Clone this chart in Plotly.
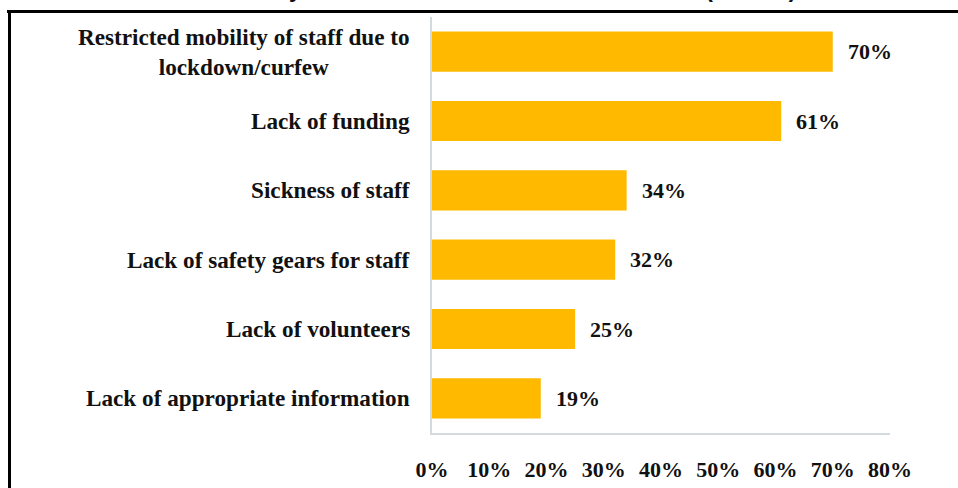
import plotly.graph_objects as go

categories = [
    "Restricted mobility of staff due to<br>lockdown/curfew",
    "Lack of funding",
    "Sickness of staff",
    "Lack of safety gears for staff",
    "Lack of volunteers",
    "Lack of appropriate information",
]
values = [70, 61, 34, 32, 25, 19]
tick_values = [0, 10, 20, 30, 40, 50, 60, 70, 80]
tick_labels = ["0%", "10%", "20%", "30%", "40%", "50%", "60%", "70%", "80%"]
title_text = "Headed by Professional Social workers (n=113)"

W, H = 958, 488
L, R, T, B = 432, 68, 17, 55
plot_h = H - T - B
plot_w = W - L - R

serif = "Liberation Serif, Times New Roman, serif"

fig = go.Figure()
fig.add_trace(go.Bar(
    x=values, y=categories, orientation="h",
    marker=dict(color="#FFBA00", line=dict(width=0)),
    width=0.58, hoverinfo="skip",
))

annotations = []
for c, v in zip(categories, values):
    annotations.append(dict(
        x=v, y=c, xref="x", yref="y", text=f"<b>{v}%</b>",
        showarrow=False, xanchor="left", yanchor="middle", xshift=13,
        font=dict(family=serif, size=22, color="#111111"),
    ))
    annotations.append(dict(
        x=0, y=c, xref="paper", yref="y", text=f"<b>{c}</b>",
        showarrow=False, xanchor="right", yanchor="middle", xshift=-20,
        align="center",
        font=dict(family=serif, size=23.2, color="#111111"),
    ))

# partially visible title at very top
annotations.append(dict(
    x=(488 - L) / plot_w, y=1 + (T - 6) / plot_h, xref="paper", yref="paper",
    text=f"<b>{title_text}</b>", showarrow=False, xanchor="center", yanchor="bottom",
    font=dict(family="Liberation Mono, Courier New, monospace", size=23, color="#111111"),
))

# black frame (partially visible)
fx0 = (9.5 - L) / plot_w
fy1 = 1 + (T - 11.5) / plot_h
shapes = [
    dict(type="line", xref="paper", yref="paper", x0=(7 - L) / plot_w, x1=1.5,
         y0=fy1, y1=fy1, line=dict(color="black", width=3)),
    dict(type="line", xref="paper", yref="paper", x0=fx0, x1=fx0,
         y0=fy1, y1=-0.5, line=dict(color="black", width=3)),
]

fig.update_layout(
    width=W, height=H,
    margin=dict(l=L, r=R, t=T, b=B, pad=0),
    paper_bgcolor="white", plot_bgcolor="white",
    showlegend=False,
    bargap=0.42,
    annotations=annotations,
    shapes=shapes,
    xaxis=dict(
        range=[0, 80], tickvals=tick_values,
        ticktext=[f"<b>{t}</b>" for t in tick_labels],
        showgrid=False, zeroline=False,
        showline=True, linecolor="#d3dadd", linewidth=2,
        ticks="", ticklabelstandoff=16, automargin=False,
        tickfont=dict(family=serif, size=22, color="#111111"),
        fixedrange=True,
    ),
    yaxis=dict(
        autorange="reversed", showticklabels=False, automargin=False,
        showgrid=False, zeroline=False,
        showline=True, linecolor="#d3dadd", linewidth=2,
        ticks="", fixedrange=True,
    ),
)

fig.write_html("out.html", config={"displayModeBar": False},
               post_script="document.body.style.margin='0';")
